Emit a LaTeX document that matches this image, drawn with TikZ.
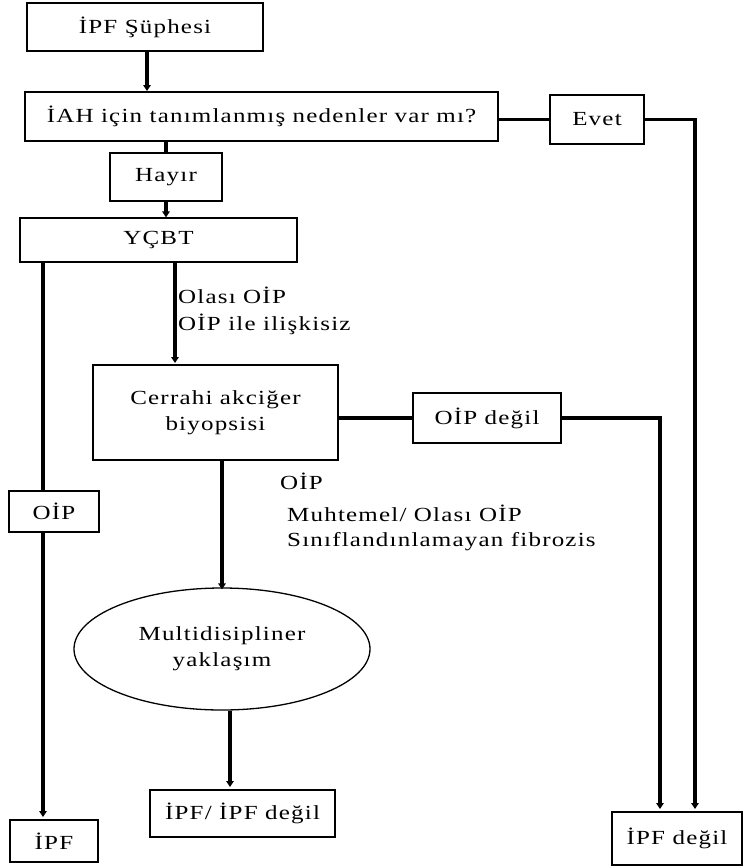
\documentclass[tikz,border=0pt]{standalone}
\usepackage{fontspec}
\setmainfont[FakeStretch=1.25,LetterSpace=6]{Liberation Serif}
\usetikzlibrary{arrows.meta,shapes.geometric}
\tikzset{
  box/.style={draw, line width=1.3pt, fill=white, inner sep=0pt, align=center},
  conn/.style={line width=3.4pt},
  thinconn/.style={line width=2.6pt},
  arr/.style={conn, -{Triangle[length=6pt,width=7.5pt]}},
  lbl/.style={anchor=west, inner sep=0pt}
}
\begin{document}
\begin{tikzpicture}[x=1pt,y=-1pt,font=\fontsize{20}{26}\selectfont]
\useasboundingbox (0,0) rectangle (744,868);
% boxes
\node[box, minimum width=236pt, minimum height=48pt] (s) at (145,27) {İPF Şüphesi};
\node[box, minimum width=473pt, minimum height=49pt] (q) at (261.5,116.5) {İAH için tanımlanmış nedenler var mı?};
\node[box, minimum width=94pt, minimum height=49pt] (evet) at (597,119.5) {Evet};
\node[box, minimum width=112pt, minimum height=48pt] (hayir) at (166,177) {Hayır};
\node[box, minimum width=277pt, minimum height=44pt] (y) at (158.5,240) {YÇBT};
\node[box, minimum width=90pt, minimum height=41pt] (oip) at (54,511.5) {OİP};
\node[box, minimum width=88pt, minimum height=42pt] (ipf) at (54,841) {İPF};
\node[box, minimum width=245pt, minimum height=95pt] (c) at (215.5,412.5) {Cerrahi akciğer\\biyopsisi};
\node[box, minimum width=148pt, minimum height=50pt] (od) at (487,418) {OİP değil};
\node[box, ellipse, minimum width=296pt, minimum height=122pt] (m) at (222,649) {Multidisipliner\\yaklaşım};
\node[box, minimum width=185pt, minimum height=47pt] (ii) at (242.5,813.5) {İPF/ İPF değil};
\node[box, minimum width=130pt, minimum height=53pt] (nd) at (677,838.5) {İPF değil};
% labels
\node[lbl] (l1) at (178,295) {Olası OİP};
\node[lbl] (l2) at (178,324) {OİP ile ilişkisiz};
\node[lbl] (l3) at (280,481) {OİP};
\node[lbl] (l4) at (287,513) {Muhtemel/ Olası OİP};
\node[lbl] (l5) at (287,542) {Sınıflandınlamayan fibrozis};
% free ends
\coordinate (ex) at (43,817);
\coordinate (ey) at (175,363);
\coordinate (ez) at (230,787);
\coordinate (er1) at (660,809);
\coordinate (er2) at (695,809);
\coordinate (es) at (147,91);
% connectors
\draw[arr] (s.south -| es) -- (es);
\draw[thinconn] (q.east |- evet.west) -- (evet.west);
\draw[arr] (evet.east) -| (er2);
\draw[conn] (q.south -| hayir.north) -- (hayir.north);
\draw[arr] (hayir.south) -- (hayir.south |- y.north);
\draw[conn] (y.south -| ex) -- (oip.north -| ex);
\draw[arr] (oip.south -| ex) -- (ex);
\draw[arr] (y.south -| ey) -- (ey);
\draw[conn] (c.east |- od.west) -- (od.west);
\draw[arr] (od.east) -| (er1);
\draw[arr] (c.south -| m.north) -- ([yshift=-2pt]m.north);
\draw[arr] (m.south -| ez) -- (ez);
\end{tikzpicture}
\end{document}
